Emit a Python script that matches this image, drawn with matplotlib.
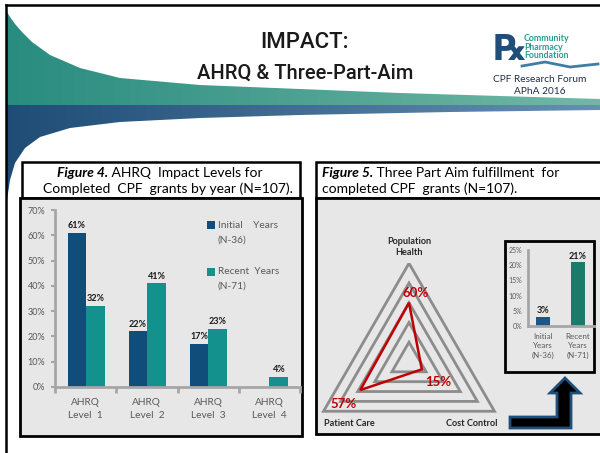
import numpy as np
import matplotlib.pyplot as plt
from matplotlib.patches import Rectangle, Polygon
from matplotlib.ticker import FuncFormatter

plt.rcParams['font.family'] = ['Lato', 'DejaVu Sans']

# figure 4 data
levels = ['AHRQ\nLevel  1', 'AHRQ\nLevel  2', 'AHRQ\nLevel  3', 'AHRQ\nLevel  4']
initial = [61, 22, 17, 0]
recent = [32, 41, 23, 4]

# figure 5 data
aim_names = ['Population\nHealth', 'Patient Care', 'Cost Control']
aim_values = [60, 57, 15]
ring_levels = [20, 40, 60, 80, 100]
inset_labels = ['Initial\nYears\n(N-36)', 'Recent\nYears\n(N-71)']
inset_values = [3, 21]

W, H = 600, 453
fig = plt.figure(figsize=(6, 4.53), dpi=100)


def box(x0, y0, x1, y1):
    # pixel box -> figure fraction
    return [x0 / W, 1 - y1 / H, (x1 - x0) / W, (y1 - y0) / H]


bg = fig.add_axes([0, 0, 1, 1])
bg.axis('off')

# header swoosh
top_x = [7, 10, 15, 22, 32, 50, 80, 120, 200, 300, 400, 500, 600]
top_y = [12, 17, 24, 32, 42, 55, 68, 78, 85, 89, 93, 96, 99]
bot_x = [7, 10, 15, 25, 40, 70, 120, 200, 300, 450, 600]
bot_y = [200, 180, 163, 148, 137, 128, 122, 118, 115, 112, 110]
mid = 105

teal_poly = Polygon(list(zip(top_x, top_y)) + [(600, mid), (7, mid)], closed=True,
                    facecolor='none', edgecolor='none')
blue_poly = Polygon([(7, mid), (600, mid)] + list(zip(bot_x, bot_y))[::-1], closed=True,
                    facecolor='none', edgecolor='none')
bg.add_patch(teal_poly)
bg.add_patch(blue_poly)

t = np.linspace(0, 1, 256)
c0, c1 = np.array([0.16, 0.55, 0.50]), np.array([0.45, 0.72, 0.65])
grad = (c0[None, :] * (1 - t[:, None]) + c1[None, :] * t[:, None])[None, :, :]
im = bg.imshow(grad, extent=(7, 600, mid, 10), aspect='auto', zorder=1)
im.set_clip_path(teal_poly)
c0, c1 = np.array([0.12, 0.30, 0.46]), np.array([0.40, 0.56, 0.70])
grad = (c0[None, :] * (1 - t[:, None]) + c1[None, :] * t[:, None])[None, :, :]
im = bg.imshow(grad, extent=(7, 600, 205, mid), aspect='auto', zorder=1)
im.set_clip_path(blue_poly)

bg.set_xlim(0, W)
bg.set_ylim(H, 0)

# slide frame
bg.plot([6, 600], [5, 5], color='black', lw=1.8, zorder=5)
bg.plot([6, 6], [5, H], color='black', lw=1.8, zorder=5)

# titles
bg.text(305, 42, 'IMPACT:', ha='center', va='center', fontsize=16, fontweight='medium',
        family=['Roboto', 'DejaVu Sans'], color='#1a1a1a', zorder=6)
bg.text(305, 73, 'AHRQ & Three-Part-Aim', ha='center', va='center', fontsize=14.5,
        fontweight='medium', family=['Roboto', 'DejaVu Sans'], color='#1a1a1a', zorder=6)

# logo
bg.text(510, 50, '\u211e', ha='center', va='center', fontsize=26, color='#1f4e79',
        fontweight='bold', family=['DejaVu Sans'], zorder=6)
bg.text(524, 47, 'Community\nPharmacy\nFoundation', ha='left', va='center', fontsize=6.3,
        fontweight='bold', color='#2a9d8f', linespacing=0.95, zorder=6)
bg.plot([522, 545, 570, 598], [66, 62, 67, 64], color='#3d7fa3', lw=2, zorder=6)
bg.text(540, 80, 'CPF Research Forum', ha='center', va='center', fontsize=7.3,
        color='#1f2f45', zorder=6)
bg.text(540, 91, 'APhA 2016', ha='center', va='center', fontsize=7.3,
        color='#1f2f45', zorder=6)

# caption and chart boxes
bg.add_patch(Rectangle((22, 162), 278, 36, facecolor='white', edgecolor='black', lw=1.8, zorder=3))
bg.add_patch(Rectangle((20, 198), 282, 238, facecolor='#e7e7e7', edgecolor='black', lw=2, zorder=3))
bg.add_patch(Rectangle((316, 162), 300, 36, facecolor='white', edgecolor='black', lw=1.8, zorder=3))
bg.add_patch(Rectangle((316, 198), 300, 236, facecolor='#e7e7e7', edgecolor='black', lw=2, zorder=3))
bg.add_patch(Rectangle((505, 241), 89, 131, facecolor='#e7e7e7', edgecolor='black', lw=2, zorder=3))


def caption(x, y, bold, rest):
    t1 = bg.text(x, y, bold, ha='left', va='center', fontsize=10, fontweight='bold',
                 style='italic', zorder=6)
    bg.annotate(rest, xy=(1, 0), xycoords=t1, ha='left', va='bottom', fontsize=10, zorder=6)


caption(57, 173, 'Figure 4.', ' AHRQ  Impact Levels for')
bg.text(43, 189, 'Completed  CPF  grants by year (N=107).', ha='left', va='center',
        fontsize=10, zorder=6)
caption(322, 173, 'Figure 5.', ' Three Part Aim fulfillment  for')
bg.text(322, 189, 'completed CPF  grants (N=107).', ha='left', va='center', fontsize=10, zorder=6)

# arrow
bg.add_patch(Polygon([(510, 417), (557, 417), (557, 393), (550, 393), (565, 378), (580, 393),
                      (571, 393), (571, 428), (510, 428)], closed=True,
                     facecolor='black', edgecolor='#1f4e79', lw=2, zorder=4))

# legend for figure 4
bg.add_patch(Rectangle((207, 221), 8, 8, facecolor='#114d7a', zorder=6))
bg.text(218, 225, 'Initial    Years', ha='left', va='center', fontsize=7.3, color='#595959', zorder=6)
bg.text(217, 240, '(N-36)', ha='left', va='center', fontsize=7.3, color='#595959', zorder=6)
bg.add_patch(Rectangle((207, 268), 8, 8, facecolor='#13918c', zorder=6))
bg.text(218, 272, 'Recent  Years', ha='left', va='center', fontsize=7.3, color='#595959', zorder=6)
bg.text(217, 286, '(N-71)', ha='left', va='center', fontsize=7.3, color='#595959', zorder=6)

gray = '#a6a6a6'
tick_col = '#595959'

# ---- figure 4 bar chart
ax = fig.add_axes(box(55, 210, 300, 387))
ax.patch.set_alpha(0)
x = np.arange(len(levels))
w = 0.29
b1 = ax.bar(x - w / 2, initial, w, color='#114d7a')
b2 = ax.bar(x + w / 2 + 0.01, recent, w + 0.02, color='#13918c')
for bars, vals in ((b1, initial), (b2, recent)):
    for b, v in zip(bars, vals):
        if v > 0:
            ax.annotate('%d%%' % v, (b.get_x() + b.get_width() / 2, v), xytext=(0, 2),
                        textcoords='offset points', ha='center', va='bottom',
                        fontsize=6.5, fontweight='bold', color='#1a1a1a')
ax.set_xlim(-0.5, 3.5)
ax.set_ylim(0, 70)
ax.set_yticks(range(0, 71, 10))
ax.yaxis.set_major_formatter(FuncFormatter(lambda v, p: '%d%%' % v))
ax.set_xticks(x)
ax.set_xticklabels(levels, fontsize=7.3, color=tick_col, linespacing=1.6)
ax.set_xticks(np.arange(-0.5, 4, 1), minor=True)
ax.tick_params(axis='x', which='major', length=0, pad=8)
ax.tick_params(axis='x', which='minor', length=4, width=2, color=gray)
ax.tick_params(axis='y', length=3, width=1.5, color=gray, labelsize=6.5, labelcolor=tick_col, pad=4)
for s in ('top', 'right'):
    ax.spines[s].set_visible(False)
for s in ('left', 'bottom'):
    ax.spines[s].set_color(gray)
    ax.spines[s].set_linewidth(2)

# ---- figure 5 triangle chart
tri = fig.add_axes(box(409 - 98.7, 263.3, 409 + 98.7, 431))
tri.axis('off')
tri.set_xlim(-1, 1)
tri.set_ylim(-0.7, 1.0)
ang = np.deg2rad([90, 210, 330])
for r in ring_levels:
    rr = r / 100
    tri.add_patch(Polygon(np.c_[rr * np.cos(ang), rr * np.sin(ang)], closed=True,
                          fill=False, edgecolor='#8c8c8c', lw=2))
vals = np.array(aim_values) / 100
tri.add_patch(Polygon(np.c_[vals * np.cos(ang), vals * np.sin(ang)], closed=True,
                      fill=False, edgecolor='#c00000', lw=1.8))
name_offsets = [((0, 12), 'center'), ((0, -9), 'left'), ((2, -9), 'right')]
for a, name, (off, ha) in zip(ang, aim_names, name_offsets):
    tri.annotate(name, (np.cos(a), np.sin(a)), xytext=off, textcoords='offset points',
                 ha=ha, va='center', fontsize=6.6, fontweight='bold', color='#262626',
                 linespacing=1.3, annotation_clip=False)
val_offsets = [(5, 7), (-12, -10), (12, -9)]
for a, v, off in zip(ang, aim_values, val_offsets):
    tri.annotate('%d%%' % v, (v / 100 * np.cos(a), v / 100 * np.sin(a)), xytext=off,
                 textcoords='offset points', ha='center', va='center', fontsize=9.5,
                 fontweight='bold', color='#c00000', annotation_clip=False)

# ---- inset bar chart
ins = fig.add_axes(box(528, 250, 594, 326))
ins.patch.set_alpha(0)
xi = np.arange(len(inset_values))
ib = ins.bar(xi, inset_values, 0.4, color=['#1f5582', '#1b7a69'])
for b, v in zip(ib, inset_values):
    ins.annotate('%d%%' % v, (b.get_x() + b.get_width() / 2, v), xytext=(0, 1),
                 textcoords='offset points', ha='center', va='bottom',
                 fontsize=6.5, fontweight='bold', color='#1a1a1a')
ins.set_xlim(-0.43, 1.46)
ins.set_ylim(0, 25)
ins.set_yticks(range(0, 26, 5))
ins.yaxis.set_major_formatter(FuncFormatter(lambda v, p: '%d%%' % v))
ins.set_xticks(xi)
ins.set_xticklabels(inset_labels, fontsize=5.8, color=tick_col, linespacing=1.4)
ins.tick_params(axis='x', length=0, pad=5)
ins.tick_params(axis='y', length=0, labelsize=5, labelcolor=tick_col, pad=4)
for s in ('top', 'right'):
    ins.spines[s].set_visible(False)
for s in ('left', 'bottom'):
    ins.spines[s].set_color(gray)
    ins.spines[s].set_linewidth(2)

fig.savefig('out.png', dpi=100)
